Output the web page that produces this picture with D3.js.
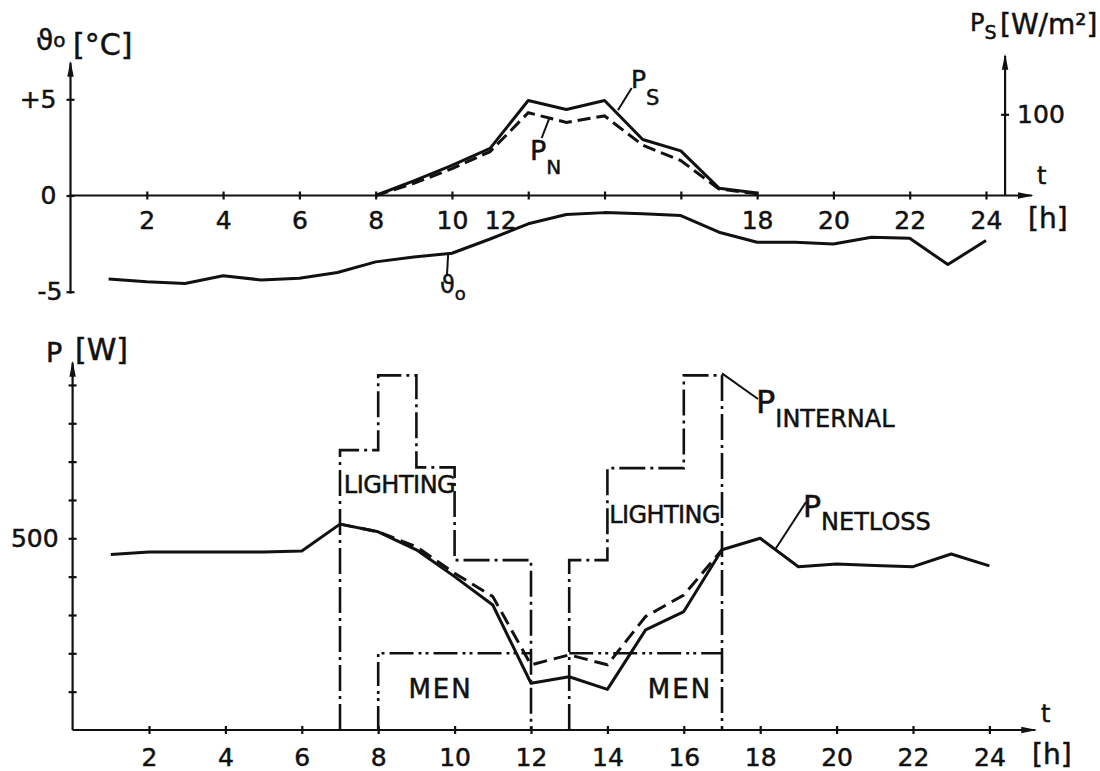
<!DOCTYPE html>
<html><head><meta charset="utf-8">
<script src="https://cdn.jsdelivr.net/npm/d3@7"></script>
<style>
body{margin:0;background:#fff}
svg{display:block}
text{font-family:"DejaVu Sans","Noto Sans",sans-serif;fill:#111;stroke:#111;stroke-width:0.5}
</style>
</head><body><svg id="c" width="1100" height="771"></svg>
<script>
// ---------- data ----------
const hours = d3.range(1, 25);
const tempOutdoor = [-4.34,-4.48,-4.57,-4.17,-4.39,-4.30,-4.00,-3.45,-3.20,-3.00,-2.26,-1.47,-0.99,-0.89,-0.95,-1.04,-1.91,-2.43,-2.43,-2.52,-2.17,-2.22,-3.59,-2.34];
const solarHours = [8,9,10,11,12,13,14,15,16,17,18];
const solarPS = [0,18,37,58,117,106,117,69,55,9,3];
const solarPN = [0,15,33,54,102,90,98,62,43,8,2];
const netLossSolid = [458,464,464,464,464,467,537,517,470,400,326,122,139,106,261,309,470,500,426,433,429,426,459,428];
const netLossDashedHours = [7,8,9,10,11,12,13,14,15,16,17];
const netLossDashed = [537,517,478,409,348,170,196,170,296,352,470];
// internal gains: step schedule (hour boundaries and level in between)
const internalAM_hours = [7,8,9,10,12];
const internalAM_levels = [730,925,685,443];
const internalPM_hours = [13,14,16,17];
const internalPM_levels = [443,683,925];
const menAM_hours = [8,12];
const menPM_hours = [13,17];
const menLevel = 200;
const topTicks = d3.range(2, 25, 2);
const topTickLabels = ["2","4","6","8","10","12","","","18","20","22","24"];
const bottomTicks = d3.range(2, 25, 2);
const tempTicks = [-5, 0, 5];
const tempTickLabels = ["-5","0","+5"];
const psTicks = [100];
const pTicks = d3.range(100, 1000, 100);

// ---------- setup ----------
const svg = d3.select("#c");
const ink = "#111";
const defs = svg.append("defs");
defs.append("marker").attr("id","arr").attr("viewBox","0 -5 16 10")
  .attr("refX",14).attr("refY",0).attr("markerWidth",16).attr("markerHeight",10)
  .attr("markerUnits","userSpaceOnUse").attr("orient","auto")
  .append("path").attr("d","M0,-3.2L16,0L0,3.2Z").attr("fill",ink);

// scales - top chart
const xT = d3.scaleLinear().domain([0,24]).range([70.5, 986]);
const yT = d3.scaleLinear().domain([-5,5]).range([291.7, 99.3]);
const yPs = d3.scaleLinear().domain([0,100]).range([195.5, 114.3]);
// scales - bottom chart
const xB = d3.scaleLinear().domain([0,24]).range([72.6, 989.4]);
const yB = d3.scaleLinear().domain([0,500]).range([730, 538.3]);

function styleAxis(g, size){
  g.select(".domain").remove();
  g.selectAll(".tick line").attr("stroke",ink).attr("stroke-width",2.2);
  g.selectAll(".tick text").attr("font-size",size).attr("fill",ink)
    .attr("font-family",'"DejaVu Sans",sans-serif');
}

// ---------- top chart axes ----------
const gTop = svg.append("g");
gTop.append("line").attr("x1",xT(0)).attr("x2",xT(25.2)).attr("y1",yT(0)).attr("y2",yT(0))
  .attr("stroke",ink).attr("stroke-width",2.2).attr("marker-end","url(#arr)");
gTop.append("line").attr("x1",xT(0)).attr("x2",xT(0)).attr("y1",yT(-5.1)).attr("y2",yT(6.9))
  .attr("stroke",ink).attr("stroke-width",2.2).attr("marker-end","url(#arr)");
gTop.append("line").attr("x1",xT(24.5)).attr("x2",xT(24.5)).attr("y1",yPs(0)).attr("y2",yPs(172))
  .attr("stroke",ink).attr("stroke-width",2.2).attr("marker-end","url(#arr)");

const axTopX = gTop.append("g").attr("transform",`translate(0,${yT(0)})`)
  .call(d3.axisBottom(xT).tickValues(topTicks).tickSizeInner(4).tickSizeOuter(0).tickPadding(12)
    .tickFormat((d,i)=>topTickLabels[i]));
styleAxis(axTopX, 25);
axTopX.selectAll(".tick line").attr("y1",-4);
axTopX.selectAll(".tick text").filter(d=>d===12).attr("dx",-28);

const axTopY = gTop.append("g").attr("transform",`translate(${xT(0)},0)`)
  .call(d3.axisLeft(yT).tickValues(tempTicks).tickSizeInner(4).tickSizeOuter(0).tickPadding(10)
    .tickFormat((d,i)=>tempTickLabels[i]));
styleAxis(axTopY, 25);
axTopY.selectAll(".tick line").attr("x1",4);
axTopY.selectAll(".tick text").filter(d=>d===-5).attr("dx",6);

const axPs = gTop.append("g").attr("transform",`translate(${xT(24.5)},0)`)
  .call(d3.axisRight(yPs).tickValues(psTicks).tickSizeInner(4).tickSizeOuter(0).tickPadding(8));
styleAxis(axPs, 25);
axPs.selectAll(".tick line").attr("x1",-4);

// ---------- top chart lines ----------
const lineTemp = d3.line().x((d,i)=>xT(hours[i])).y(d=>yT(d));
gTop.append("path").attr("d",lineTemp(tempOutdoor)).attr("fill","none")
  .attr("stroke",ink).attr("stroke-width",3).attr("stroke-linejoin","round");
const lineSolar = d3.line().x((d,i)=>xT(solarHours[i])).y(d=>yPs(d));
gTop.append("path").attr("d",lineSolar(solarPN)).attr("fill","none")
  .attr("stroke",ink).attr("stroke-width",3).attr("stroke-dasharray","13,6");
gTop.append("path").attr("d",lineSolar(solarPS)).attr("fill","none")
  .attr("stroke",ink).attr("stroke-width",3).attr("stroke-linejoin","round");

function leader(g,x1,y1,x2,y2){
  g.append("line").attr("x1",x1).attr("y1",y1).attr("x2",x2).attr("y2",y2)
   .attr("stroke",ink).attr("stroke-width",2);
}
leader(gTop, xT(14.35), yPs(105), 631.7, 88);
leader(gTop, xT(12.55), yPs(95), 541.7, 138);
leader(gTop, xT(9.9), yT(-3.05), 447, 275);

function sublabel(g,x,y,main,sub,mainSize,subSize,subDy){
  const t = g.append("text").attr("x",x).attr("y",y).attr("font-size",mainSize);
  t.append("tspan").text(main);
  t.append("tspan").attr("font-size",subSize).attr("dy",subDy).text(sub);
  return t;
}
sublabel(gTop, 631, 88, "P", "S", 25, 21, 17);
sublabel(gTop, 530, 160, "P", "N", 27, 20, 14);
sublabel(gTop, 440, 293, "ϑ", "o", 24, 18, 7);
// axis titles top
sublabel(gTop, 36, 50, "ϑ", "o", 28, 20, -3);
gTop.append("text").attr("x",73).attr("y",55).attr("font-size",30).text("[°C]");
sublabel(gTop, 970, 31, "P", "S", 24, 19, 8);
gTop.append("text").attr("x",1000).attr("y",34).attr("font-size",28).text("[W/m²]");
gTop.append("text").attr("x",1037).attr("y",184).attr("font-size",24).text("t");
gTop.append("text").attr("x",1028).attr("y",228).attr("font-size",28).text("[h]");

// ---------- bottom chart axes ----------
const gB = svg.append("g");
gB.append("line").attr("x1",xB(0)).attr("x2",xB(25.2)).attr("y1",yB(0)).attr("y2",yB(0))
  .attr("stroke",ink).attr("stroke-width",2.2).attr("marker-end","url(#arr)");
gB.append("line").attr("x1",xB(0)).attr("x2",xB(0)).attr("y1",yB(0)).attr("y2",yB(958))
  .attr("stroke",ink).attr("stroke-width",2.2).attr("marker-end","url(#arr)");

const axBX = gB.append("g").attr("transform",`translate(0,${yB(0)})`)
  .call(d3.axisBottom(xB).tickValues(bottomTicks).tickSizeInner(4).tickSizeOuter(0).tickPadding(14)
    .tickFormat(d3.format("d")));
styleAxis(axBX, 25);
axBX.selectAll(".tick line").attr("y1",-4);

const axBY = gB.append("g").attr("transform",`translate(${xB(0)},0)`)
  .call(d3.axisLeft(yB).tickValues(pTicks).tickSizeInner(4).tickSizeOuter(0).tickPadding(10)
    .tickFormat(d=> d===500 ? "500" : ""));
styleAxis(axBY, 25);
axBY.selectAll(".tick line").attr("x1",4);

// ---------- bottom chart: internal gains steps ----------
function stepPoints(hrs, lvls, dropEnd){
  const pts = [[hrs[0],0]];
  for(let i=0;i<lvls.length;i++){
    pts.push([hrs[i], lvls[i]]);
    pts.push([hrs[i+1], lvls[i]]);
  }
  if(dropEnd) pts.push([hrs[hrs.length-1],0]);
  return pts;
}
const stepLine = d3.line().x(d=>xB(d[0])).y(d=>yB(d[1]));
[stepPoints(internalAM_hours, internalAM_levels, true),
 stepPoints(internalPM_hours, internalPM_levels, true)].forEach(p=>{
  gB.append("path").attr("d",stepLine(p)).attr("fill","none").attr("stroke",ink)
    .attr("stroke-width",2.6).attr("stroke-dasharray","26,5,3,5");
});
gB.append("path").attr("d",stepLine([[menAM_hours[0],0],[menAM_hours[0],menLevel],[menAM_hours[1],menLevel]]))
  .attr("fill","none").attr("stroke",ink).attr("stroke-width",2.6).attr("stroke-dasharray","24,5,3,4,3,5");
gB.append("path").attr("d",stepLine([[menPM_hours[0],menLevel],[menPM_hours[1],menLevel]]))
  .attr("fill","none").attr("stroke",ink).attr("stroke-width",2.6).attr("stroke-dasharray","24,5,3,4,3,5");

const lineNL = d3.line().x((d,i)=>xB(hours[i])).y(d=>yB(d));
const lineNLd = d3.line().x((d,i)=>xB(netLossDashedHours[i])).y(d=>yB(d));
gB.append("path").attr("d",lineNLd(netLossDashed)).attr("fill","none").attr("stroke",ink)
  .attr("stroke-width",3).attr("stroke-dasharray","14,7");
gB.append("path").attr("d",lineNL(netLossSolid)).attr("fill","none").attr("stroke",ink)
  .attr("stroke-width",3).attr("stroke-linejoin","round");

gB.append("text").attr("x",xB(7.1)).attr("y",493).attr("font-size",24).attr("letter-spacing",-0.5).text("LIGHTING");
gB.append("text").attr("x",xB(14.05)).attr("y",523).attr("font-size",24).attr("letter-spacing",-0.6).text("LIGHTING");
gB.append("text").attr("x",xB(10)-14).attr("y",698).attr("font-size",26).attr("letter-spacing",2).attr("text-anchor","middle").text("MEN");
gB.append("text").attr("x",xB(15.9)).attr("y",698).attr("font-size",26).attr("letter-spacing",2).attr("text-anchor","middle").text("MEN");

leader(gB, xB(17), yB(930), 758, 399);
leader(gB, xB(18.4), yB(472), 806, 502);
sublabel(gB, 756, 413, "P", "INTERNAL", 32, 24, 14);
sublabel(gB, 803, 517, "P", "NETLOSS", 30, 24, 13);
gB.append("text").attr("x",46).attr("y",362).attr("font-size",27).text("P");
gB.append("text").attr("x",75).attr("y",360).attr("font-size",30).text("[W]");
gB.append("text").attr("x",1041).attr("y",722).attr("font-size",24).text("t");
gB.append("text").attr("x",1032).attr("y",764).attr("font-size",28).text("[h]");
</script>
</body></html>
